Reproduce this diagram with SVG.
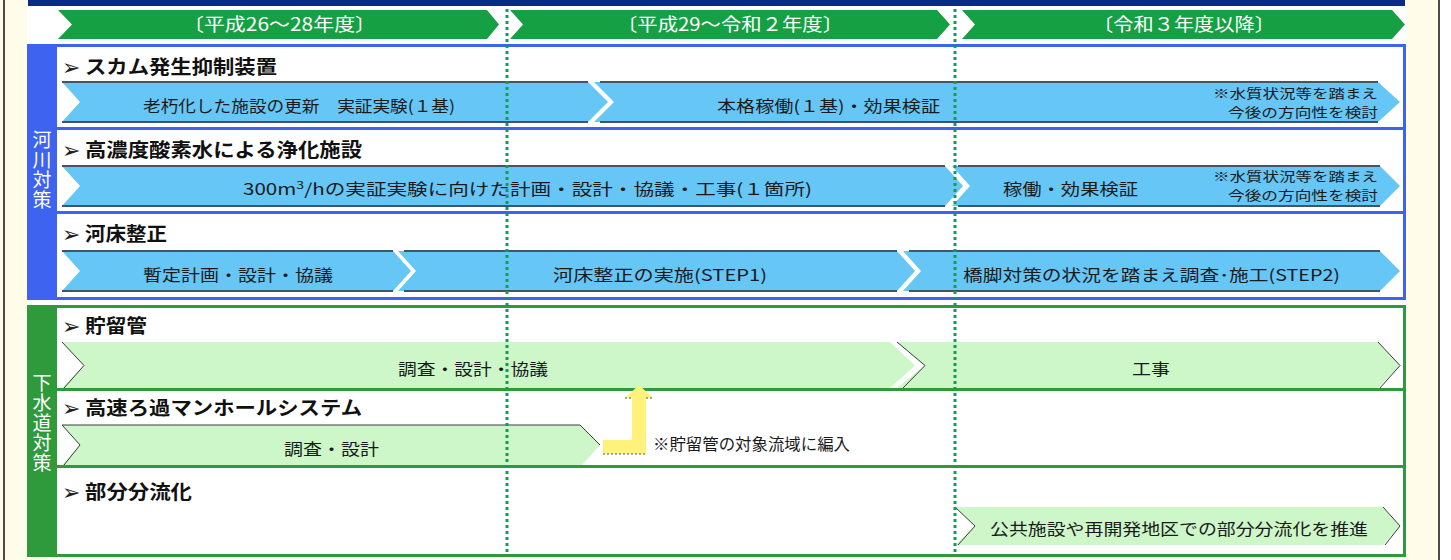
<svg xmlns="http://www.w3.org/2000/svg" width="1451" height="560" viewBox="0 0 1451 560">
<style>
text{font-family:"Noto Sans CJK JP","Noto Sans",sans-serif;}
.hdr{fill:#ffffff;font-size:18px;}
.ttl{fill:#111;font-size:19px;font-weight:bold;}
.mk{fill:#222;font-size:22px;font-family:"DejaVu Sans",sans-serif;}
.bt{fill:#1a1a1a;font-size:16px;}
.nt{fill:#1a1a1a;font-size:13px;}
.vl{fill:#ffffff;font-size:19px;writing-mode:vertical-rl;letter-spacing:1px;}
.chev{fill:#16a044;}
.bseg{fill:#66c6f6;}
.bedge{stroke:#3e5666;stroke-width:2;fill:none;}
.gseg{fill:#cdf7c9;}
.gedge{stroke:#3a3a3a;stroke-width:1;fill:none;}
.dot{stroke:#17995a;stroke-width:3;stroke-dasharray:3 3;fill:none;}
</style>
<rect x="0" y="0" width="1451" height="560" fill="#fffdea"/>
<rect x="1440" y="0" width="11" height="560" fill="#ffffff"/>
<line x1="4" y1="0" x2="4" y2="560" stroke="#111" stroke-width="1.5"/>
<line x1="1439" y1="0" x2="1439" y2="560" stroke="#111" stroke-width="1.5"/>
<rect x="27" y="0" width="1380" height="558" fill="#ffffff"/>
<rect x="28" y="0" width="1377" height="6" fill="#0b2a88"/>

<g id="header">
<polygon class="chev" points="58,10 487,10 499,24.5 487,39 58,39 72,24.5"/>
<polygon class="chev" points="510,10 937,10 950,24.5 937,39 510,39 523,24.5"/>
<polygon class="chev" points="962,10 1392,10 1405,24.5 1392,39 962,39 975,24.5"/>
<text class="hdr" x="183" y="31" textLength="193" lengthAdjust="spacingAndGlyphs">〔平成26～28年度〕</text>
<text class="hdr" x="617" y="31" textLength="226" lengthAdjust="spacingAndGlyphs">〔平成29～令和２年度〕</text>
<text class="hdr" x="1093" y="31" textLength="182" lengthAdjust="spacingAndGlyphs">〔令和３年度以降〕</text>
</g>

<g id="river">
<rect x="28.5" y="45.5" width="1376" height="253" fill="#ffffff" stroke="#3d63f0" stroke-width="3"/>
<rect x="27" y="44" width="30" height="256" fill="#3d63f0"/>
<line x1="57" y1="128.5" x2="1405" y2="128.5" stroke="#3d63f0" stroke-width="3"/>
<line x1="57" y1="212.5" x2="1405" y2="212.5" stroke="#3d63f0" stroke-width="3"/>
<text class="vl" x="42" y="130">河川対策</text>
</g>

<g id="sewer">
<rect x="28.5" y="306.5" width="1376" height="249" fill="#ffffff" stroke="#2f9a3c" stroke-width="3"/>
<rect x="27" y="305" width="30" height="252" fill="#2f9a3c"/>
<line x1="57" y1="389.5" x2="1405" y2="389.5" stroke="#2f9a3c" stroke-width="3"/>
<line x1="57" y1="466.5" x2="1405" y2="466.5" stroke="#2f9a3c" stroke-width="3"/>
<text class="vl" x="42" y="373" letter-spacing="2">下水道対策</text>
</g>

<g id="row-scum">
<text class="mk" x="62" y="75">➢</text>
<text class="ttl" x="85" y="74" textLength="192" lengthAdjust="spacingAndGlyphs">スカム発生抑制装置</text>
<polygon class="bseg" points="62,82 588,82 608,102 588,122 62,122 80,102"/>
<polyline class="bedge" points="62,82 588,82"/><polyline class="bedge" points="62,122 588,122"/>
<polygon class="bseg" points="594,82 1378,82 1400,102 1378,122 594,122 614,102"/>
<polyline class="bedge" points="600,82 1378,82"/><polyline class="bedge" points="600,122 1378,122"/>
<text class="bt" x="143" y="112" textLength="312" lengthAdjust="spacingAndGlyphs">老朽化した施設の更新　実証実験(１基)</text>
<text class="bt" x="717" y="112" textLength="223" lengthAdjust="spacingAndGlyphs">本格稼働(１基)・効果検証</text>
<text class="nt" x="1213" y="98" textLength="165" lengthAdjust="spacingAndGlyphs">※水質状況等を踏まえ</text>
<text class="nt" x="1228" y="117" textLength="150" lengthAdjust="spacingAndGlyphs">今後の方向性を検討</text>
</g>

<g id="row-oxygen">
<text class="mk" x="62" y="158">➢</text>
<text class="ttl" x="85" y="157" textLength="277" lengthAdjust="spacingAndGlyphs">高濃度酸素水による浄化施設</text>
<polygon class="bseg" points="62,166 945,166 963,186 945,206 62,206 80,186"/>
<polyline class="bedge" points="62,166 945,166"/><polyline class="bedge" points="62,206 945,206"/>
<polygon class="bseg" points="952,166 1380,166 1400,186 1380,206 952,206 970,186"/>
<polyline class="bedge" points="958,166 1380,166"/><polyline class="bedge" points="958,206 1380,206"/>
<text class="bt" x="243" y="195" textLength="569" lengthAdjust="spacingAndGlyphs">300m<tspan font-size="11" dy="-6">3</tspan><tspan dy="6">/hの実証実験に向けた計画・設計・協議・工事(１箇所)</tspan></text>
<text class="bt" x="1003" y="195" textLength="135" lengthAdjust="spacingAndGlyphs">稼働・効果検証</text>
<text class="nt" x="1213" y="181" textLength="165" lengthAdjust="spacingAndGlyphs">※水質状況等を踏まえ</text>
<text class="nt" x="1228" y="200" textLength="150" lengthAdjust="spacingAndGlyphs">今後の方向性を検討</text>
</g>

<g id="row-riverbed">
<text class="mk" x="62" y="242">➢</text>
<text class="ttl" x="85" y="241" textLength="82" lengthAdjust="spacingAndGlyphs">河床整正</text>
<polygon class="bseg" points="62,251 393,251 411,271 393,291 62,291 80,271"/>
<polyline class="bedge" points="62,251 393,251"/><polyline class="bedge" points="62,291 393,291"/>
<polygon class="bseg" points="398,251 897,251 915,271 897,291 398,291 416,271"/>
<polyline class="bedge" points="404,251 897,251"/><polyline class="bedge" points="404,291 897,291"/>
<polygon class="bseg" points="903,251 1380,251 1400,271 1380,291 903,291 921,271"/>
<polyline class="bedge" points="909,251 1380,251"/><polyline class="bedge" points="909,291 1380,291"/>
<text class="bt" x="143" y="281" textLength="190" lengthAdjust="spacingAndGlyphs">暫定計画・設計・協議</text>
<text class="bt" x="553" y="281" textLength="214" lengthAdjust="spacingAndGlyphs">河床整正の実施(STEP1)</text>
<text class="bt" x="963" y="281" textLength="377" lengthAdjust="spacingAndGlyphs">橋脚対策の状況を踏まえ調査･施工(STEP2)</text>
</g>

<g id="row-storage">
<text class="mk" x="62" y="334">➢</text>
<text class="ttl" x="85" y="333" textLength="62" lengthAdjust="spacingAndGlyphs">貯留管</text>
<polygon class="gseg" points="62,342 890,342 915,365.5 890,388 62,388 84,365.5"/>
<polyline class="gedge" points="62,342 84,365.5 64,388"/>
<polygon class="gseg" points="897,342 1378,342 1400,365.5 1378,388 897,388 925,365.5"/>
<polyline class="gedge" points="897,342 925,365.5 903,388"/>
<polyline class="gedge" points="1378,342 1400,365.5 1380,388"/>
<text class="bt" x="398" y="375" textLength="150" lengthAdjust="spacingAndGlyphs">調査・設計・協議</text>
<text class="bt" x="1132" y="375" textLength="38" lengthAdjust="spacingAndGlyphs">工事</text>
</g>

<g id="row-manhole">
<text class="mk" x="62" y="416">➢</text>
<text class="ttl" x="85" y="415" textLength="277" lengthAdjust="spacingAndGlyphs">高速ろ過マンホールシステム</text>
<polygon class="gseg" points="62,425 580,425 600,445 582,465 62,465 80,445"/>
<polyline class="gedge" points="62,425 580,425 600,445" stroke="#888"/>
<polyline class="gedge" points="62,425 80,445 64,465"/>
<text class="bt" x="284" y="455" textLength="95" lengthAdjust="spacingAndGlyphs">調査・設計</text>
</g>

<g id="row-separate">
<text class="mk" x="62" y="500">➢</text>
<text class="ttl" x="85" y="499" textLength="107" lengthAdjust="spacingAndGlyphs">部分分流化</text>
<polygon class="gseg" points="955,507 1383,507 1400,526 1383,545 955,545 975,526"/>
<polyline class="gedge" points="955,507 975,526 958,545"/>
<polyline class="gedge" points="1383,507 1400,526 1385,545"/>
<text class="bt" x="990" y="535" textLength="378" lengthAdjust="spacingAndGlyphs">公共施設や再開発地区での部分分流化を推進</text>
</g>

<g id="connectors">
<path d="M603,440 L632,440 L632,398 L625,398 L639,385 L653,398 L646,398 L646,454 L603,454 Z" fill="#fff27c"/>
<path d="M603,454 L646,454 M625,398 L632,398 M646,398 L653,398" stroke="#555" stroke-width="1" stroke-dasharray="2 2" fill="none"/>
<text class="bt" x="653" y="450" font-size="15" textLength="197" lengthAdjust="spacingAndGlyphs">※貯留管の対象流域に編入</text>
</g>

<g id="dividers">
<line class="dot" x1="507" y1="9" x2="507" y2="556"/>
<line class="dot" x1="955" y1="9" x2="955" y2="556"/>
</g>
</svg>
